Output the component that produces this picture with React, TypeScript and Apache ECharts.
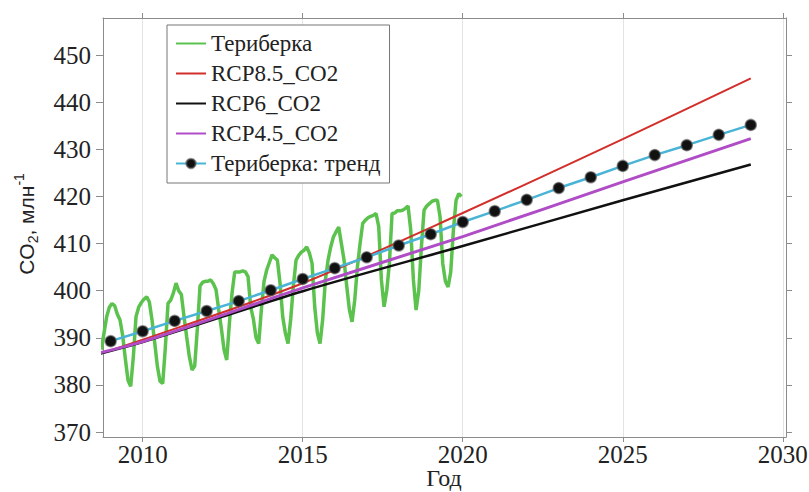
import React, { useEffect, useRef } from "react";
import * as echarts from "echarts";

// Axis ticks
const xTicks = [2010, 2015, 2020, 2025, 2030];
const yTicks = [370, 380, 390, 400, 410, 420, 430, 440, 450];

// Teriberka monthly observations, starting Sep 2008
const teriberkaStartYear = 2008;
const teriberkaStartMonth = 9; // September
const teriberka2008 = [387.5, 391, 394.5, 396.5];
const teriberka2009 = [397.3, 396.8, 395, 393.8, 390.5, 385.5, 381, 379.7, 386, 394.5, 396.5, 397.5];
const teriberka2010 = [398.2, 398.7, 397.6, 393.8, 389, 384, 380.8, 380.3, 388, 397.3, 398, 399.5];
const teriberka2011 = [401.6, 400, 399.2, 394.5, 390.2, 386, 383.2, 384, 392, 401, 401.8, 402];
const teriberka2012 = [402, 402.3, 401.5, 400.2, 396, 392, 387.5, 385.3, 393, 399.5, 404, 404];
const teriberka2013 = [404, 404.2, 404, 403, 396.6, 394, 390, 388.8, 396, 402, 404.4, 406];
const teriberka2014 = [407.6, 407, 406.5, 401.6, 394.5, 391, 388.8, 394, 401, 406.5, 407.5, 408.2];
const teriberka2015 = [408.6, 409.3, 408, 405.8, 396.6, 391, 388.8, 394, 402.3, 406.5, 409.3, 411.4];
const teriberka2016 = [412.5, 413.5, 410, 406.5, 401, 396, 393.4, 398, 405, 410, 414.3, 415];
const teriberka2017 = [415.5, 415.8, 416, 416.4, 413.6, 402.3, 396.6, 400, 405.8, 416.4, 416.5, 417];
const teriberka2018 = [417, 417.1, 417.5, 418, 412.9, 402.3, 395.9, 400, 409.3, 417.1, 418, 418.5];
const teriberka2019 = [419, 419.2, 419.2, 415.7, 405.8, 402, 400.8, 404, 412.9, 419.2, 420.6, 420];

// RCP scenarios
const rcpYears = [2008, 2010, 2015, 2020, 2025, 2029];
const rcp85 = [385.2, 389.6, 401.6, 416.5, 432.2, 445.1];
const rcp6 = [385.5, 389.1, 399.9, 409.5, 419.2, 426.8];
const rcp45 = [385.8, 389.2, 400.6, 411.5, 423.1, 432.3];

// Teriberka trend
const trendYears = [2009, 2010, 2011, 2012, 2013, 2014, 2015, 2016, 2017, 2018, 2019, 2020, 2021, 2022, 2023, 2024, 2025, 2026, 2027, 2028, 2029];
const trendValues = [389.3, 391.4, 393.6, 395.7, 397.8, 400.1, 402.5, 404.8, 407.1, 409.6, 412.0, 414.6, 416.9, 419.3, 421.8, 424.1, 426.5, 428.8, 430.9, 433.1, 435.2];

const legendNames = ["Териберка", "RCP8.5_CO2", "RCP6_CO2", "RCP4.5_CO2", "Териберка: тренд"];
const xAxisTitle = "Год";

const teriberkaValues = [
  ...teriberka2008, ...teriberka2009, ...teriberka2010, ...teriberka2011, ...teriberka2012,
  ...teriberka2013, ...teriberka2014, ...teriberka2015, ...teriberka2016, ...teriberka2017,
  ...teriberka2018, ...teriberka2019,
];

const serif = "'Liberation Serif', 'Times New Roman', serif";
const sans = "'Liberation Sans', Arial, sans-serif";
const frameColor = "#8c8c8c";

export default function App() {
  const ref = useRef<HTMLDivElement>(null);
  useEffect(() => {
    const chart = echarts.init(ref.current!, null, { renderer: "svg" });
    const terData = teriberkaValues.map((v, i) => [
      teriberkaStartYear + (teriberkaStartMonth - 1 + i + 0.5) / 12,
      v,
    ]);
    const pair = (xs: number[], ys: number[]) => xs.map((x, i) => [x, ys[i]]);
    const xMin = 2008.76;
    const xMax = 2030.1;
    const yMin = 368.95;
    const yMax = 457.9;
    const option: any = {
      animation: false,
      backgroundColor: "#fff",
      grid: { left: 103, right: 23, top: 18, bottom: 55, containLabel: false, outerBoundsMode: "none" },
      xAxis: [
        {
          type: "value",
          min: xMin,
          max: xMax,
          position: "bottom",
          axisLine: { show: true, onZero: false, lineStyle: { color: frameColor, width: 1 } },
          axisTick: { show: true, inside: false, length: 5, customValues: xTicks, lineStyle: { color: frameColor } },
          axisLabel: {
            customValues: xTicks,
            formatter: (v: number) => String(v),
            fontFamily: serif,
            fontSize: 25,
            lineHeight: 25,
            color: "#222",
            margin: 5,
          },
          splitLine: { show: true, lineStyle: { color: "#e4e4e4", width: 1 } },
        },
        {
          type: "value",
          min: xMin,
          max: xMax,
          position: "top",
          axisLine: { show: true, onZero: false, lineStyle: { color: frameColor, width: 1 } },
          axisTick: { show: true, inside: false, length: 5, customValues: xTicks, lineStyle: { color: frameColor } },
          axisLabel: { show: false },
          splitLine: { show: false },
        },
      ],
      yAxis: [
        {
          type: "value",
          min: yMin,
          max: yMax,
          position: "left",
          axisLine: { show: true, onZero: false, lineStyle: { color: frameColor, width: 1 } },
          axisTick: { show: true, inside: false, length: 7, customValues: yTicks, lineStyle: { color: frameColor } },
          axisLabel: {
            customValues: yTicks,
            formatter: (v: number) => String(v),
            fontFamily: serif,
            fontSize: 25,
            color: "#222",
            margin: 12,
          },
          splitLine: { show: false },
        },
        {
          type: "value",
          min: yMin,
          max: yMax,
          position: "right",
          axisLine: { show: true, onZero: false, lineStyle: { color: frameColor, width: 1 } },
          axisTick: { show: true, inside: false, length: 6, customValues: yTicks, lineStyle: { color: frameColor } },
          axisLabel: { show: false },
          splitLine: { show: false },
        },
      ],
      legend: {
        orient: "vertical",
        left: 167,
        top: 25,
        padding: [7, 9, 8, 8],
        itemGap: 7,
        itemWidth: 30,
        itemHeight: 12,
        backgroundColor: "#fff",
        borderColor: "#777",
        borderWidth: 1,
        borderRadius: 0,
        textStyle: { fontFamily: serif, fontSize: 23, lineHeight: 23, color: "#222" },
        data: legendNames.map((name, i) =>
          i === legendNames.length - 1 ? { name } : { name, itemStyle: { opacity: 0 } }
        ),
      },
      graphic: [
        {
          type: "text",
          x: 26,
          y: 224,
          rotation: Math.PI / 2,
          style: {
            text: "{a|CO}{b|2}{a|, млн}{c|-1}",
            align: "center",
            verticalAlign: "middle",
            fill: "#222",
            rich: {
              a: { fontFamily: sans, fontSize: 21, lineHeight: 28, verticalAlign: "middle", fill: "#222" },
              b: { fontFamily: sans, fontSize: 14, lineHeight: 12, verticalAlign: "bottom", fill: "#222" },
              c: { fontFamily: sans, fontSize: 14, lineHeight: 12, verticalAlign: "top", fill: "#222" },
            },
          },
        },
        {
          type: "text",
          x: 444,
          y: 478,
          style: {
            text: xAxisTitle,
            align: "center",
            verticalAlign: "middle",
            fontFamily: serif,
            fontSize: 24,
            fill: "#222",
          },
        },
      ],
      series: [
        {
          name: legendNames[0],
          type: "line",
          data: terData,
          showSymbol: false,
          symbol: "none",
          lineStyle: { color: "#5cc24e", width: 3.5 },
          itemStyle: { color: "#5cc24e" },
          z: 2,
        },
        {
          name: legendNames[1],
          type: "line",
          data: pair(rcpYears, rcp85),
          smooth: 0.3,
          symbol: "none",
          lineStyle: { color: "#d22e2a", width: 2 },
          itemStyle: { color: "#d22e2a" },
          z: 3,
        },
        {
          name: legendNames[2],
          type: "line",
          data: pair(rcpYears, rcp6),
          smooth: 0.3,
          symbol: "none",
          lineStyle: { color: "#111111", width: 2.5 },
          itemStyle: { color: "#111111" },
          z: 3,
        },
        {
          name: legendNames[3],
          type: "line",
          data: pair(rcpYears, rcp45),
          smooth: 0.3,
          symbol: "none",
          lineStyle: { color: "#b04cc6", width: 3 },
          itemStyle: { color: "#b04cc6" },
          z: 3,
        },
        {
          name: legendNames[4],
          type: "line",
          data: pair(trendYears, trendValues),
          symbol: "circle",
          symbolSize: 11,
          lineStyle: { color: "#4ab4d6", width: 2.5 },
          itemStyle: { color: "#111111", borderColor: "rgba(90,90,90,0.6)", borderWidth: 1.5 },
          z: 4,
        },
      ],
    };
    chart.setOption(option);
    return () => chart.dispose();
  }, []);
  return <div ref={ref} style={{ position: "fixed", left: 0, top: 0, width: 809, height: 492 }} />;
}
